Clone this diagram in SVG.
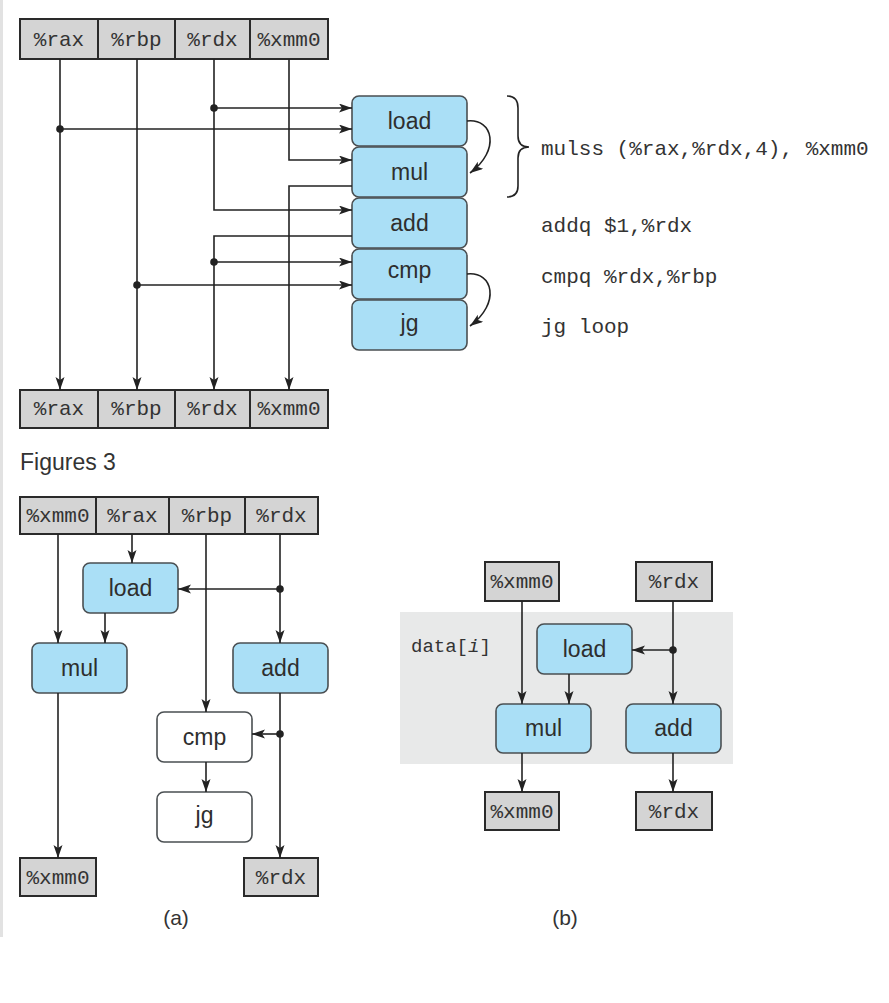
<svg xmlns="http://www.w3.org/2000/svg" width="889" height="1003" viewBox="0 0 889 1003">
<defs>
<marker id="ah" markerUnits="userSpaceOnUse" markerWidth="14" markerHeight="10" refX="13" refY="4.5" orient="auto">
<path d="M0,0 L13,4.5 L0,9 L3,4.5 z" fill="#222"/>
</marker>
</defs>
<style>
.reg{fill:#d4d4d4;stroke:#2a2a2a;stroke-width:2}
.rt{font-family:"Liberation Mono","DejaVu Sans Mono",monospace;font-size:21px;fill:#333;text-anchor:middle}
.code{font-family:"Liberation Mono","DejaVu Sans Mono",monospace;font-size:21px;fill:#333}
.op{fill:#aadff6;stroke:#4a4f52;stroke-width:1.6}
.opw{fill:#ffffff;stroke:#4a4f52;stroke-width:1.6}
.ot{font-family:"Liberation Sans",Arial,sans-serif;font-size:23px;fill:#2e2e2e;text-anchor:middle}
.cap{font-family:"Liberation Sans",Arial,sans-serif;font-size:21px;fill:#333;text-anchor:middle}
.ln{fill:none;stroke:#222;stroke-width:1.6}
.ar{fill:none;stroke:#222;stroke-width:1.6;marker-end:url(#ah)}
.dot{fill:#222}
</style>
<rect x="0" y="0" width="3" height="937" fill="#e2e2e2"/>

<!-- ===== Top figure ===== -->
<g id="top-in-rax"><rect class="reg" x="20" y="19" width="78" height="40"/><text class="rt" x="59" y="46">%rax</text></g>
<g id="top-in-rbp"><rect class="reg" x="98" y="19" width="77" height="40"/><text class="rt" x="136.5" y="46">%rbp</text></g>
<g id="top-in-rdx"><rect class="reg" x="175" y="19" width="75" height="40"/><text class="rt" x="212.5" y="46">%rdx</text></g>
<g id="top-in-xmm0"><rect class="reg" x="250" y="19" width="78" height="40"/><text class="rt" x="289" y="46">%xmm0</text></g>

<g id="top-out-rax"><rect class="reg" x="20" y="390" width="78" height="38"/><text class="rt" x="59" y="415">%rax</text></g>
<g id="top-out-rbp"><rect class="reg" x="98" y="390" width="77" height="38"/><text class="rt" x="136.5" y="415">%rbp</text></g>
<g id="top-out-rdx"><rect class="reg" x="175" y="390" width="75" height="38"/><text class="rt" x="212.5" y="415">%rdx</text></g>
<g id="top-out-xmm0"><rect class="reg" x="250" y="390" width="78" height="38"/><text class="rt" x="289" y="415">%xmm0</text></g>

<g id="top-load"><rect class="op" x="352" y="96" width="115" height="50" rx="7"/><text class="ot" x="409.5" y="129">load</text></g>
<g id="top-mul"><rect class="op" x="352" y="147" width="115" height="50" rx="7"/><text class="ot" x="409.5" y="180">mul</text></g>
<g id="top-add"><rect class="op" x="352" y="198" width="115" height="50" rx="7"/><text class="ot" x="409.5" y="231">add</text></g>
<g id="top-cmp"><rect class="op" x="352" y="249" width="115" height="50" rx="7"/><text class="ot" x="409.5" y="278">cmp</text></g>
<g id="top-jg"><rect class="op" x="352" y="300" width="115" height="50" rx="7"/><text class="ot" x="409.5" y="331">jg</text></g>

<g id="top-code">
<path class="ln" d="M507,96 Q518,96 518,108 L518,136 Q518,147 529,147 Q518,147 518,158 L518,186 Q518,197 507,197" stroke-width="1.4"/>
<text class="code" x="541" y="155">mulss (%rax,%rdx,4), %xmm0</text>
<text class="code" x="541" y="232">addq $1,%rdx</text>
<text class="code" x="541" y="283">cmpq %rdx,%rbp</text>
<text class="code" x="541" y="333">jg loop</text>
</g>

<g id="top-connectors">
<path class="ar" d="M60,59 L60,390"/>
<path class="ar" d="M60,129 L352,129"/>
<circle class="dot" cx="60" cy="129" r="3.8"/>
<path class="ar" d="M137,59 L137,390"/>
<path class="ar" d="M137,285 L352,285"/>
<circle class="dot" cx="137" cy="285" r="3.8"/>
<path class="ar" d="M214,59 L214,210 L352,210"/>
<path class="ar" d="M214,108 L352,108"/>
<circle class="dot" cx="214" cy="108" r="3.8"/>
<path class="ar" d="M352,236 L214,236 L214,390"/>
<path class="ar" d="M214,262 L352,262"/>
<circle class="dot" cx="214" cy="262" r="3.8"/>
<path class="ar" d="M289,59 L289,160 L352,160"/>
<path class="ar" d="M352,186 L289,186 L289,390"/>
<path class="ar" d="M467,121 C493,118 501,150 470,173"/>
<path class="ar" d="M467,274 C493,271 501,303 470,326"/>
</g>

<text x="20" y="470" font-family="Liberation Sans, Arial, sans-serif" font-size="23" fill="#333">Figures 3</text>

<!-- ===== Figure (a) ===== -->
<g id="a-in-xmm0"><rect class="reg" x="20" y="497" width="76" height="37"/><text class="rt" x="58" y="522">%xmm0</text></g>
<g id="a-in-rax"><rect class="reg" x="96" y="497" width="73" height="37"/><text class="rt" x="132.5" y="522">%rax</text></g>
<g id="a-in-rbp"><rect class="reg" x="169" y="497" width="76" height="37"/><text class="rt" x="207" y="522">%rbp</text></g>
<g id="a-in-rdx"><rect class="reg" x="245" y="497" width="73" height="37"/><text class="rt" x="281.5" y="522">%rdx</text></g>

<g id="a-load"><rect class="op" x="83" y="563" width="95" height="50" rx="7"/><text class="ot" x="130.5" y="596">load</text></g>
<g id="a-mul"><rect class="op" x="32" y="643" width="95" height="50" rx="7"/><text class="ot" x="79.5" y="676">mul</text></g>
<g id="a-add"><rect class="op" x="233" y="643" width="95" height="50" rx="7"/><text class="ot" x="280.5" y="676">add</text></g>
<g id="a-cmp"><rect class="opw" x="157" y="712" width="95" height="50" rx="7"/><text class="ot" x="204.5" y="745">cmp</text></g>
<g id="a-jg"><rect class="opw" x="157" y="792" width="95" height="50" rx="7"/><text class="ot" x="204.5" y="823">jg</text></g>

<g id="a-out-xmm0"><rect class="reg" x="20" y="858" width="76" height="38"/><text class="rt" x="58" y="884">%xmm0</text></g>
<g id="a-out-rdx"><rect class="reg" x="244" y="858" width="74" height="38"/><text class="rt" x="281" y="884">%rdx</text></g>

<g id="a-connectors">
<path class="ar" d="M58,534 L58,643"/>
<path class="ar" d="M132,534 L132,563"/>
<path class="ar" d="M206,534 L206,712"/>
<path class="ar" d="M280,534 L280,643"/>
<path class="ar" d="M280,589 L178,589"/>
<circle class="dot" cx="280" cy="589" r="3.8"/>
<path class="ar" d="M105,613 L105,643"/>
<path class="ar" d="M58,693 L58,858"/>
<path class="ar" d="M280,693 L280,858"/>
<path class="ar" d="M280,734 L252,734"/>
<circle class="dot" cx="280" cy="734" r="3.8"/>
<path class="ar" d="M206,762 L206,792"/>
</g>
<text class="cap" x="176" y="925">(a)</text>

<!-- ===== Figure (b) ===== -->
<rect id="b-region" x="400" y="612" width="333" height="152" fill="#e8e9e9"/>
<text x="411" y="652" font-family="Liberation Mono, DejaVu Sans Mono, monospace" font-size="19" fill="#333">data[<tspan font-style="italic">i</tspan>]</text>

<g id="b-in-xmm0"><rect class="reg" x="485" y="562" width="74" height="39"/><text class="rt" x="522" y="588">%xmm0</text></g>
<g id="b-in-rdx"><rect class="reg" x="636" y="562" width="76" height="39"/><text class="rt" x="674" y="588">%rdx</text></g>

<g id="b-load"><rect class="op" x="537" y="624" width="95" height="50" rx="7"/><text class="ot" x="584.5" y="657">load</text></g>
<g id="b-mul"><rect class="op" x="496" y="704" width="95" height="49" rx="7"/><text class="ot" x="543.5" y="736">mul</text></g>
<g id="b-add"><rect class="op" x="626" y="704" width="95" height="49" rx="7"/><text class="ot" x="673.5" y="736">add</text></g>

<g id="b-out-xmm0"><rect class="reg" x="485" y="792" width="74" height="38"/><text class="rt" x="522" y="818">%xmm0</text></g>
<g id="b-out-rdx"><rect class="reg" x="636" y="792" width="76" height="38"/><text class="rt" x="674" y="818">%rdx</text></g>

<g id="b-connectors">
<path class="ar" d="M522,601 L522,704"/>
<path class="ar" d="M673,601 L673,704"/>
<path class="ar" d="M673,650 L632,650"/>
<circle class="dot" cx="673" cy="650" r="3.8"/>
<path class="ar" d="M569,674 L569,704"/>
<path class="ar" d="M522,753 L522,792"/>
<path class="ar" d="M673,753 L673,792"/>
</g>
<text class="cap" x="565" y="925">(b)</text>
</svg>
